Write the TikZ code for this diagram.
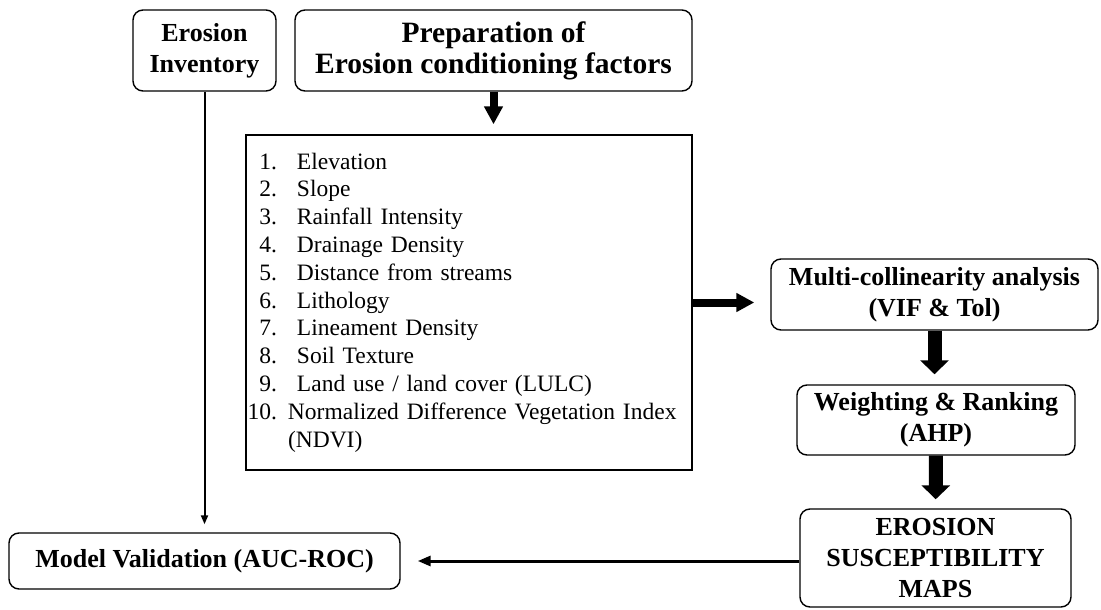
\documentclass[tikz,border=0pt]{standalone}
\usepackage{fontspec}
\setmainfont{Liberation Serif}
\usetikzlibrary{arrows.meta}

\begin{document}
\begin{tikzpicture}[x=1bp, y=-1bp,
  stagebox/.style={draw=black, text=black, line width=1.4bp, rounded corners=10bp,
    inner sep=0pt, align=center, font=\fontsize{26bp}{31bp}\selectfont\bfseries},
  listbox/.style={draw=black, line width=1.4bp, inner xsep=3bp, inner ysep=0pt,
    align=left, font=\fontsize{23.5bp}{27.8bp}\selectfont},
  thinflow/.style={draw=black, line width=2bp, -{Triangle[length=9bp, width=7bp]}},
  backflow/.style={draw=black, line width=3bp, -{Triangle[length=13bp, width=10bp]}},
  flow/.style={draw=black, line width=8bp, -{Triangle[length=18bp, width=18bp]}},
  fatflow/.style={draw=black, line width=14bp, -{Triangle[length=14bp, width=28bp]}},
]
\useasboundingbox (0,0) rectangle (1101,610);

\node[stagebox, minimum width=143bp, minimum height=81bp] (inventory) at (204.5,50.5)
  {Erosion\\Inventory};
\node[stagebox, minimum width=397bp, minimum height=81bp,
  font=\fontsize{29.5bp}{31bp}\selectfont\bfseries] (prep) at (493.5,50.5)
  {Preparation of\\Erosion conditioning factors};
\node[listbox, text width=440bp, minimum height=335bp] (factors) at (469,302.5) {%
  \makebox[28bp][r]{1.}\hspace{20bp}Elevation\\
  \makebox[28bp][r]{2.}\hspace{20bp}Slope\\
  \makebox[28bp][r]{3.}\hspace{20bp}Rainfall Intensity\\
  \makebox[28bp][r]{4.}\hspace{20bp}Drainage Density\\
  \makebox[28bp][r]{5.}\hspace{20bp}Distance from streams\\
  \makebox[28bp][r]{6.}\hspace{20bp}Lithology\\
  \makebox[28bp][r]{7.}\hspace{20bp}Lineament Density\\
  \makebox[28bp][r]{8.}\hspace{20bp}Soil Texture\\
  \makebox[28bp][r]{9.}\hspace{20bp}Land use / land cover (LULC)\\
  \makebox[28bp][r]{10.}\hspace{11bp}Normalized Difference Vegetation Index\\
  \hspace{39bp}(NDVI)};
\node[stagebox, minimum width=327bp, minimum height=71bp] (multi) at (934.5,294.5)
  {Multi-collinearity analysis\\(VIF \& Tol)};
\node[stagebox, minimum width=278bp, minimum height=70bp] (weight) at (936,420)
  {Weighting \& Ranking\\(AHP)};
\node[stagebox, minimum width=271bp, minimum height=98bp] (maps) at (935.5,558)
  {EROSION\\SUSCEPTIBILITY\\MAPS};
\node[stagebox, minimum width=391bp, minimum height=56bp] (validation) at (204.5,561)
  {Model Validation (AUC-ROC)};

\draw[thinflow, shorten >=8bp] (inventory) -- (validation);
\draw[flow, shorten >=10bp] (prep.south) -- (prep.south |- factors.north);
\draw[flow, shorten >=16bp] (factors.east) -- (factors.east -| multi.west);
\draw[fatflow, shorten >=10bp] (multi.south) -- (multi.south |- weight.north);
\draw[fatflow, shorten >=9bp] (weight) -- (maps);
\draw[backflow, shorten >=17bp] (validation.east -| maps.west) -- (validation.east);
\end{tikzpicture}
\end{document}
